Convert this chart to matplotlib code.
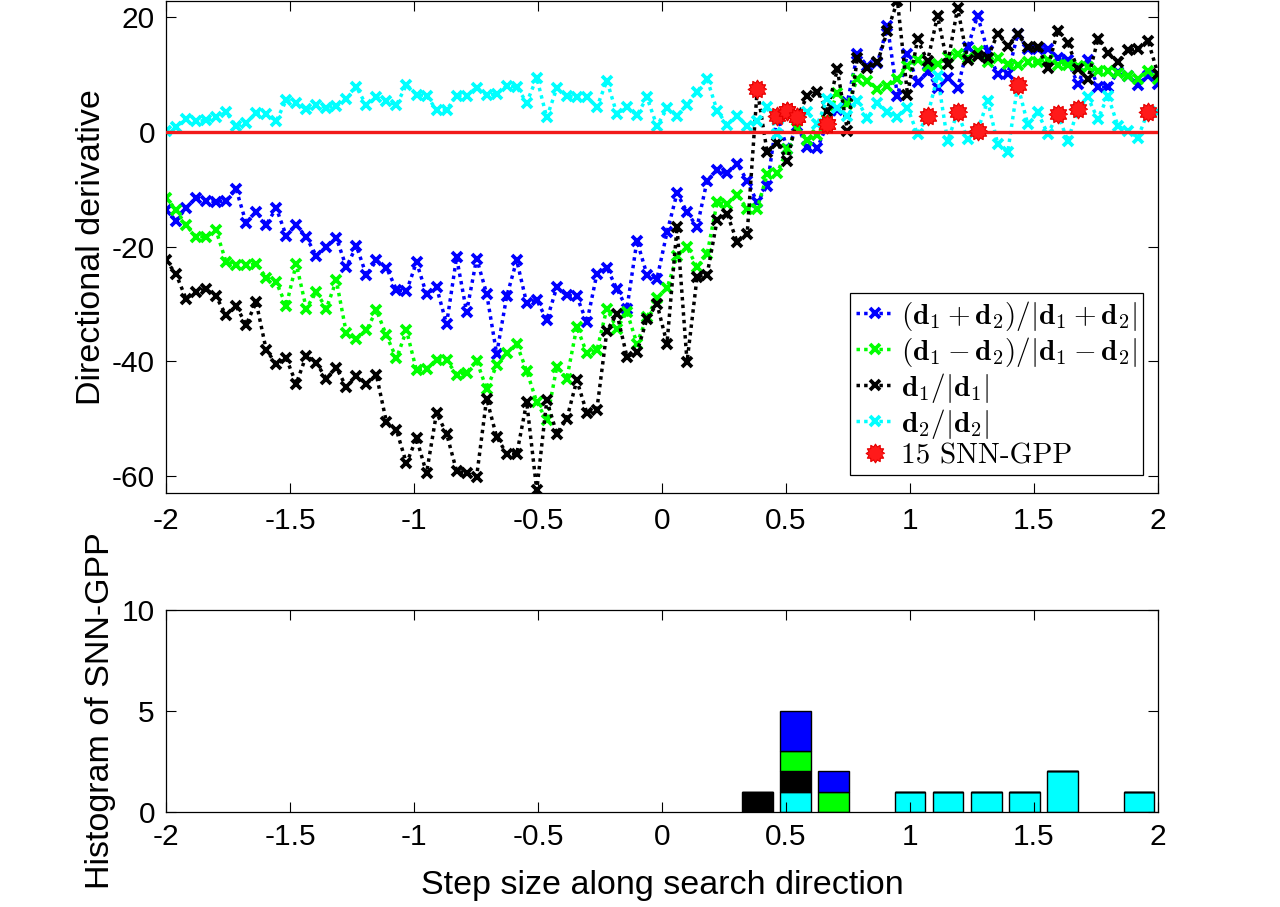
import numpy as np
import matplotlib
matplotlib.use('Agg')
import matplotlib.pyplot as plt
from matplotlib.ticker import FuncFormatter

plt.rcParams['font.family'] = ['Liberation Sans', 'DejaVu Sans']
plt.rcParams['axes.unicode_minus'] = False
plt.rcParams['mathtext.fontset'] = 'cm'

# ---------------- data ----------------
step = np.linspace(-2, 2, 100)

dir_sum = [-13.6, -15.5, -13.3, -11.5, -12.0, -12.2, -12.0, -10.0, -15.9, -13.9,
           -16.2, -13.3, -18.1, -16.2, -18.4, -21.6, -20.1, -18.5, -23.6, -19.9,
           -25.0, -22.4, -23.7, -27.5, -27.8, -22.7, -28.3, -27.1, -33.5, -21.9,
           -31.4, -22.1, -28.2, -38.7, -28.7, -22.4, -29.9, -29.3, -32.8, -27.1,
           -28.5, -28.7, -33.2, -24.8, -23.7, -27.4, -30.8, -19.0, -24.9, -25.6,
           -17.5, -10.7, -14.0, -16.6, -8.5, -6.7, -7.2, -5.6, -8.5, -12.3,
           -9.4, 2.8, -3.0, 1.0, -2.7, -2.8, 1.3, 3.8, 5.2, 13.5,
           11.5, 12.0, 18.4, 6.3, 13.5, 8.6, 10.5, 7.6, 9.4, 7.6,
           14.7, 20.2, 14.1, 10.0, 10.0, 17.0, 14.5, 14.5, 14.4, 12.9,
           12.5, 8.3, 12.5, 7.8, 7.8, 10.4, 9.8, 8.2, 9.8, 8.4]

dir_diff = [-11.5, -13.6, -16.3, -18.3, -18.3, -17.2, -22.7, -23.3, -23.3, -23.0,
            -25.4, -26.2, -30.3, -23.0, -30.8, -27.9, -30.8, -25.9, -35.1, -36.1,
            -34.6, -31.1, -35.5, -39.5, -34.6, -41.6, -41.3, -39.7, -39.8, -42.3,
            -42.0, -39.9, -44.8, -40.7, -38.6, -37.0, -41.7, -47.1, -50.3, -41.0,
            -43.0, -34.0, -38.6, -38.1, -30.8, -34.3, -31.4, -36.9, -32.3, -29.0,
            -27.3, -21.7, -20.1, -23.6, -21.3, -12.3, -12.6, -11.0, -13.4, -13.4,
            -7.4, -7.2, -3.0, 0.75, -1.4, -0.5, 2.0, 6.8, 4.8, 9.2,
            8.9, 7.4, 8.0, 9.2, 11.5, 12.5, 11.5, 11.8, 13.0, 13.5,
            12.8, 14.1, 12.1, 12.9, 11.8, 11.7, 12.1, 12.2, 12.6, 11.7,
            11.7, 11.5, 11.3, 10.6, 10.6, 10.3, 9.7, 9.2, 10.6, 9.2]

dir_d1 = [-22.4, -24.8, -29.1, -27.9, -27.4, -28.7, -32.0, -30.4, -33.6, -29.7,
          -38.0, -40.5, -39.5, -43.9, -39.0, -40.3, -43.0, -41.1, -44.5, -42.6,
          -43.9, -42.4, -50.6, -52.0, -57.8, -53.4, -59.5, -49.0, -52.6, -59.1,
          -59.5, -60.1, -46.5, -53.2, -56.1, -56.2, -47.1, -62.5, -46.8, -52.6,
          -50.0, -43.3, -49.0, -48.4, -34.7, -31.7, -39.2, -38.4, -32.6, -30.0,
          -36.9, -16.6, -40.1, -25.3, -24.9, -15.4, -14.3, -19.2, -17.8, 7.4,
          -3.6, -1.9, -5.0, 2.5, 6.3, 7.0, 3.7, 10.9, 0.2, 12.9,
          11.2, 12.1, 17.6, 22.8, 6.5, 16.1, 12.3, 20.2, 11.8, 21.6,
          12.6, 13.2, 12.9, 17.1, 15.0, 17.0, 14.7, 14.7, 11.2, 17.6,
          15.5, 10.9, 9.2, 16.1, 13.8, 12.2, 14.2, 14.4, 15.9, 10.1]

dir_d2 = [0.2, 0.8, 2.2, 1.8, 2.0, 2.5, 3.4, 1.0, 1.6, 3.2,
          3.1, 1.9, 5.5, 5.1, 3.9, 4.7, 4.2, 4.5, 5.7, 7.8,
          4.6, 6.0, 5.4, 4.7, 8.2, 6.5, 6.3, 3.8, 3.8, 6.3,
          6.3, 7.7, 6.4, 6.6, 8.0, 7.8, 5.1, 9.4, 2.5, 7.6,
          6.3, 6.1, 6.1, 4.3, 8.9, 3.1, 4.3, 2.9, 6.0, 1.0,
          4.1, 2.8, 4.7, 7.0, 9.2, 3.7, 1.2, 2.8, 1.0, 1.9,
          4.3, -0.3, 3.6, 2.8, 3.4, 1.3, 5.7, 4.2, 2.8, 5.4,
          2.4, 5.1, 3.4, 2.5, 4.2, -0.4, 2.8, 9.7, -1.6, 3.4,
          -1.3, 0.2, 5.4, -2.1, -3.6, 8.2, 1.3, 3.4, -0.4, 3.1,
          -1.6, 3.9, 6.0, 2.2, 6.3, 1.0, 0.2, -1.0, 3.5, 3.4]

gpp_x = [0.3838, 0.4646, 0.5051, 0.5455, 0.5051, 0.5455, 0.6667, 0.6667,
         1.0707, 1.1919, 1.2727, 1.4343, 1.5960, 1.6768, 1.9596]
gpp_y = [7.4, 2.8, 3.65, 2.5, 3.65, 2.5, 1.3, 1.3,
         2.8, 3.5, 0.2, 8.2, 3.1, 3.9, 3.5]

n_bins = 26
hist_bin = [15, 16, 17, 19, 20, 21, 22, 23, 25]
hist_cyan = [0, 1, 0, 1, 1, 1, 1, 2, 1]
hist_black = [1, 1, 0, 0, 0, 0, 0, 0, 0]
hist_green = [0, 1, 1, 0, 0, 0, 0, 0, 0]
hist_blue = [0, 2, 1, 0, 0, 0, 0, 0, 0]

labels = [r'$(\mathbf{d}_1+\mathbf{d}_2)/|\mathbf{d}_1+\mathbf{d}_2|$',
          r'$(\mathbf{d}_1-\mathbf{d}_2)/|\mathbf{d}_1-\mathbf{d}_2|$',
          r'$\mathbf{d}_1/|\mathbf{d}_1|$',
          r'$\mathbf{d}_2/|\mathbf{d}_2|$',
          '15 SNN-GPP']

# ---------------- figure ----------------
W, H = 1280, 907
fig = plt.figure(figsize=(W / 100, H / 100), dpi=100)
L, R = 166, 1158
ax1 = fig.add_axes([L / W, 1 - 492.7 / H, (R - L) / W, (492.7 - 1) / H])
ax2 = fig.add_axes([L / W, 1 - 811.7 / H, (R - L) / W, (811.7 - 610) / H])

dot = (0, (1, 1.2))
common = dict(ls=dot, lw=2.5, marker='x', ms=6.5, mew=2.7)
h1, = ax1.plot(step, dir_sum, color=(0, 0, 1), **common)
h2, = ax1.plot(step, dir_diff, color=(0, 1, 0), **common)
h3, = ax1.plot(step, dir_d1, color='k', **common)
h4, = ax1.plot(step, dir_d2, color=(0, 1, 1), **common)
ax1.axhline(0, color=(0.95, 0.1, 0.1), lw=2.4, zorder=3)

# spiky red marker
ang = np.linspace(0, 2 * np.pi, 25)[:-1]
rad = np.where(np.arange(24) % 2 == 0, 1.0, 0.72)
star = np.column_stack([rad * np.cos(ang), rad * np.sin(ang)])
h5, = ax1.plot(gpp_x, gpp_y, ls='none', marker=star, ms=13.5, color=(1, 0.1, 0.1),
               mec=(0.9, 0.0, 0.0), mew=0.8, zorder=5)

ax1.set_xlim(-2, 2)
ax1.set_ylim(-62.9, 22.8)
ax1.set_yticks([-60, -40, -20, 0, 20])
ax1.set_xticks(np.arange(-2, 2.01, 0.5))
fmt = FuncFormatter(lambda v, p: '%g' % v)
for a in (ax1, ax2):
    a.xaxis.set_major_formatter(fmt)
    a.yaxis.set_major_formatter(fmt)
    a.tick_params(direction='in', top=True, right=True, length=7, width=0.8,
                  labelsize=21.5)
    for s in a.spines.values():
        s.set_linewidth(0.9)
ax1.tick_params(axis='x', pad=10)
ax1.tick_params(axis='y', pad=8)
ax1.set_ylabel('Directional derivative', fontsize=24.5)
ax1.yaxis.set_label_coords(-0.059, 0.5)

leg = ax1.legend([h1, h2, h3, h4, h5], labels, loc='lower right',
                 bbox_to_anchor=(0.985, 0.036), fontsize=21, fancybox=False,
                 framealpha=1, edgecolor='k', handlelength=1.3,
                 handletextpad=0.25, labelspacing=0.07, borderpad=0.2,
                 borderaxespad=0)
leg.get_frame().set_linewidth(0.9)
leg.get_texts()[4].set_fontfamily('cmr10')

# histogram
bw = 4 / n_bins
centers = np.array([-2 + (k + 0.5) * bw for k in hist_bin])
bottom = np.zeros(len(hist_bin))
for vals, col in [(hist_cyan, (0, 1, 1)), (hist_black, 'k'),
                  (hist_green, (0, 1, 0)), (hist_blue, (0, 0, 1))]:
    v = np.array(vals, dtype=float)
    ax2.bar(centers, v, width=0.8 * bw, bottom=bottom, color=col,
            edgecolor='k', linewidth=1.0)
    bottom += v

ax2.set_xlim(-2, 2)
ax2.set_ylim(0, 10)
ax2.set_yticks([0, 5, 10])
ax2.set_xticks(np.arange(-2, 2.01, 0.5))
ax2.tick_params(axis='x', pad=8)
ax2.tick_params(axis='y', pad=8)
ax2.set_ylabel('Histogram of SNN-GPP', fontsize=24.5)
ax2.yaxis.set_label_coords(-0.050, 0.5)
ax2.set_xlabel('Step size along search direction', fontsize=24.5, labelpad=14)

fig.savefig('out.png', dpi=100)
